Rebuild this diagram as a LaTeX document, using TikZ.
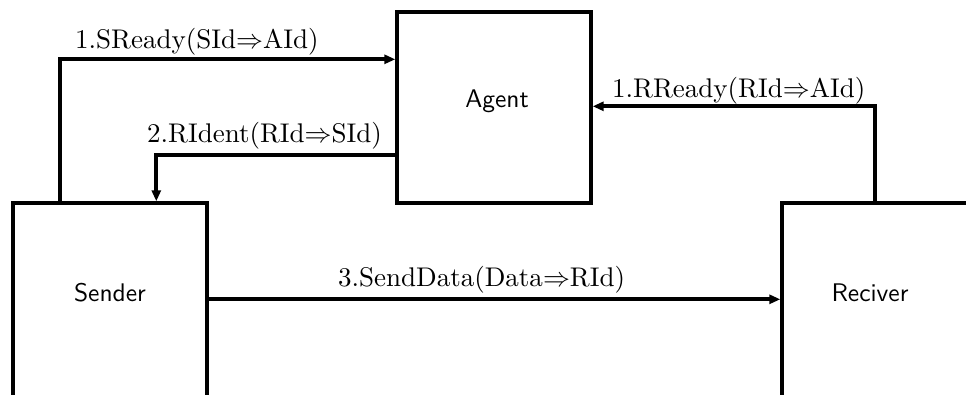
\documentclass[tikz,border=0pt]{standalone}
\usetikzlibrary{arrows.meta,calc}
\newcommand{\msgtext}[1]{\scalebox{2.7}{\fontsize{10}{12}\selectfont #1}}
\newcommand{\boxtext}[1]{\scalebox{2.55}{\fontsize{10}{12}\selectfont\sffamily #1}}
\begin{document}
\begin{tikzpicture}[x=1pt,y=-1pt,
  box/.style={draw,line width=3.4pt,rectangle,inner sep=0pt},
  conn/.style={line width=3.9pt,-{Triangle[length=11pt,width=9pt]}},
  msg/.style={anchor=base west,inner sep=0pt},
  boxname/.style={anchor=base,inner sep=0pt}]
\useasboundingbox (0,0) rectangle (966,394);
\clip (0,0) rectangle (966,394);
% boxes
\node[box,minimum width=194pt,minimum height=191pt] (agent) at (494,107.5) {};
\node[box,minimum width=194pt,minimum height=400pt] (sender) at (110,403) {};
\node[box,minimum width=400pt,minimum height=400pt] (reciver) at (982,403) {};
% box names
\node[boxname] (agentname) at (497,107) {\boxtext{Agent}};
\node[boxname] (sendername) at (110,301) {\boxtext{Sender}};
\node[boxname] (recivername) at (870,301) {\boxtext{Reciver}};
% connectors
\draw[conn] ($(sender.north west)+(49,0)$) |- ($(agent.north west)+(0,49)$);
\draw[conn] ($(agent.north west)+(0,145)$) -| ($(sender.north west)+(145,0)$);
\draw[conn] ($(reciver.north west)+(95,0)$) |- ($(agent.north east)+(0,96)$);
\draw[conn] ($(sender.north east)+(0,98)$) -- ($(reciver.north west)+(0,98)$);
% messages
\node[msg] (m1) at (75,48) {\msgtext{1.SReady(SId${\Rightarrow}$AId)}};
\node[msg] (m2) at (147,142) {\msgtext{2.RIdent(RId${\Rightarrow}$SId)}};
\node[msg] (m3) at (612,97) {\msgtext{1.RReady(RId${\Rightarrow}$AId)}};
\node[msg] (m4) at (338,286) {\msgtext{3.SendData(Data${\Rightarrow}$RId)}};
\end{tikzpicture}
\end{document}
